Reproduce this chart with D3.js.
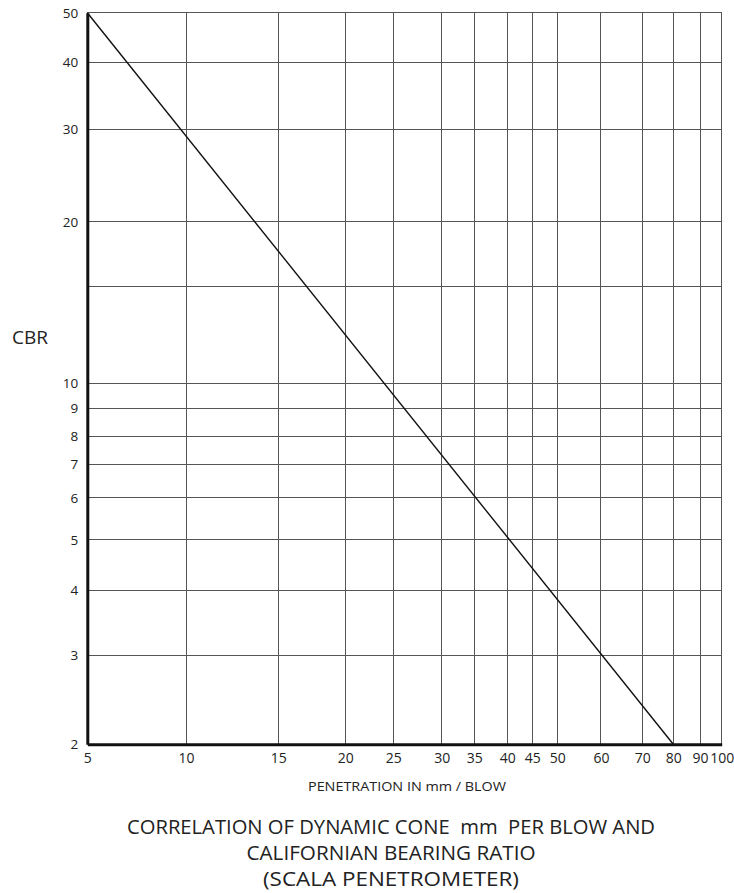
<!DOCTYPE html>
<html>
<head>
<meta charset="utf-8">
<script src="https://cdn.jsdelivr.net/npm/d3@7"></script>
<style>
  body { margin: 0; background: #fff; }
  text { font-family: "Open Sans", "Noto Sans", sans-serif; fill: #222; }
</style>
</head>
<body>
<svg id="chart" width="734" height="893"></svg>
<script>
// penetration ticks (mm / blow)
const xTicks = [5, 10, 15, 20, 25, 30, 35, 40, 45, 50, 60, 70, 80, 90, 100];
// CBR grid values and labelled ones
const yGrid = [2, 3, 4, 5, 6, 7, 8, 9, 10, 15, 20, 30, 40, 50];
const yLabels = [2, 3, 4, 5, 6, 7, 8, 9, 10, 20, 30, 40, 50];
// correlation line end points [penetration, CBR]
const linePts = [[5, 50], [80, 2]];

const titleLines = [
  "CORRELATION OF DYNAMIC CONE  mm  PER BLOW AND",
  "CALIFORNIAN BEARING RATIO",
  "(SCALA PENETROMETER)"
];

// the printed chart has hand-ruled, non uniform scales: calibrate them
// as fractions of the plot width / height at each grid value
const xCal = [0, 0.1556, 0.3011, 0.4067, 0.4823, 0.5586, 0.61, 0.662, 0.7015, 0.7408, 0.8097, 0.8748, 0.9237, 0.9658, 1];
const yCal = [0, 0.1217, 0.2105, 0.2793, 0.3371, 0.3831, 0.4214, 0.4593, 0.4934, 0.6264, 0.7143, 0.8406, 0.9317, 1];

const svg = d3.select("#chart");
const pLeft = 87.3, pRight = 721.7, pTop = 12.7, pBottom = 744.3;
const w = pRight - pLeft, h = pBottom - pTop;

const x = d3.scaleLinear()
  .domain(xTicks)
  .range(xCal.map(f => pLeft + f * w));
const y = d3.scaleLinear()
  .domain(yGrid)
  .range(yCal.map(f => pBottom - f * h));

// Grid
const grid = svg.append("g").attr("stroke", "#555").attr("stroke-width", 1).attr("shape-rendering", "crispEdges");
grid.selectAll("line.v")
  .data(xTicks.slice(1))
  .join("line")
  .attr("class", "v")
  .attr("x1", d => x(d)).attr("x2", d => x(d))
  .attr("y1", pTop).attr("y2", pBottom);
grid.selectAll("line.h")
  .data(yGrid.slice(1))
  .join("line")
  .attr("class", "h")
  .attr("x1", pLeft).attr("x2", pRight)
  .attr("y1", d => y(d)).attr("y2", d => y(d));

// Correlation line
svg.append("path")
  .datum(linePts)
  .attr("fill", "none")
  .attr("stroke", "#111")
  .attr("stroke-width", 1.4)
  .attr("d", d3.line().x(d => x(d[0])).y(d => y(d[1])));

// Axes
const xAxis = svg.append("g")
  .attr("transform", `translate(0,${pBottom})`)
  .call(d3.axisBottom(x).tickValues(xTicks).tickSize(0).tickSizeOuter(0).tickPadding(9).tickFormat(d3.format("d")));
const yAxis = svg.append("g")
  .attr("transform", `translate(${pLeft},0)`)
  .call(d3.axisLeft(y).tickValues(yLabels).tickSize(0).tickSizeOuter(0).tickPadding(9).tickFormat(d3.format("d")));

[xAxis, yAxis].forEach(a => {
  a.select(".domain").attr("stroke", "#111").attr("stroke-width", 3);
  a.selectAll("text").attr("font-size", 14).attr("fill", "#222")
    .style("font-family", '"Open Sans", sans-serif');
});
yAxis.selectAll("text").attr("font-size", 13.5);

// Axis titles
svg.append("text")
  .attr("x", 12).attr("y", 344)
  .attr("font-size", 19)
  .text("CBR");

svg.append("text")
  .attr("x", 407).attr("y", 791)
  .attr("text-anchor", "middle")
  .attr("font-size", 13)
  .attr("textLength", 198)
  .attr("lengthAdjust", "spacingAndGlyphs")
  .text("PENETRATION IN mm / BLOW");

const titleWidths = [528, 289, 256];
svg.append("g").selectAll("text")
  .data(titleLines)
  .join("text")
  .attr("x", 391)
  .attr("y", (d, i) => 834 + i * 26)
  .attr("text-anchor", "middle")
  .attr("font-size", 20)
  .attr("textLength", (d, i) => titleWidths[i])
  .attr("lengthAdjust", "spacingAndGlyphs")
  .style("white-space", "pre")
  .text(d => d);
</script>
</body>
</html>
